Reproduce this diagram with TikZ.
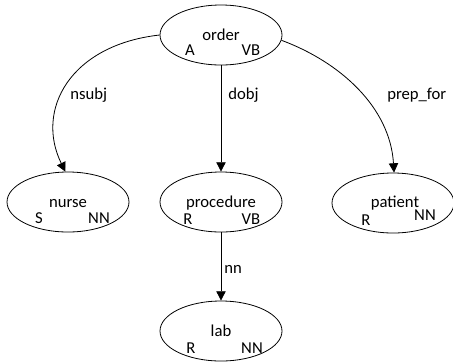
\documentclass[tikz,border=0pt]{standalone}
\usepackage{fontspec}
\setmainfont{Carlito}
\usetikzlibrary{shapes.geometric,arrows.meta}
\begin{document}
\begin{tikzpicture}[x=0.75pt,y=-0.75pt,
  tok/.style={draw,ellipse,minimum width=91.5pt,minimum height=45pt,inner sep=0pt,line width=0.6pt},
  lbl/.style={anchor=base,inner sep=0pt,font=\fontsize{12.5}{14}\selectfont},
  deplink/.style={draw,line width=0.6pt,-{Triangle[length=7pt,width=7pt]}},
  elab/.style={anchor=base west,inner sep=0pt,font=\fontsize{12.5}{14}\selectfont}]
\useasboundingbox (0,0) rectangle (453,362);
% ellipses
\node[tok] (order) at (221,35) {};
\node[tok] (nurse) at (68,202) {};
\node[tok] (procedure) at (221,202) {};
\node[tok] (patient) at (393,203) {};
\node[tok] (lab) at (221,331) {};
% words
\node[lbl] (orderw) at (221,40) {order};
\node[lbl] (orderA) at (190,55) {A};
\node[lbl] (orderB) at (251,55) {VB};
\node[lbl] (nursew) at (68,207) {nurse};
\node[lbl] (nurseA) at (39,223) {S};
\node[lbl] (nurseB) at (99,223) {NN};
\node[lbl] (procw) at (221,207) {procedure};
\node[lbl] (procA) at (188,224) {R};
\node[lbl] (procB) at (251,224) {VB};
\node[lbl] (patw) at (395,207) {patient};
\node[lbl] (patA) at (366,225) {R};
\node[lbl] (patB) at (425,220) {NN};
\node[lbl] (labw) at (221,336) {lab};
\node[lbl] (labA) at (191,353) {R};
\node[lbl] (labB) at (252,353) {NN};
% edges
\draw[deplink] (order.west) .. controls (70,45) and (35,110) .. (nurse.95);
\draw[deplink] (order.south) -- (procedure.north);
\draw[deplink] (order.355) .. controls (340,62) and (390,107) .. (patient.88);
\draw[deplink] (procedure.south) -- (lab.north);
% edge labels
\node[elab] (l1) at (70,99) {nsubj};
\node[elab] (l2) at (228,99) {dobj};
\node[elab] (l3) at (387,99) {prep\_for};
\node[elab] (l4) at (224,273) {nn};
\end{tikzpicture}
\end{document}
